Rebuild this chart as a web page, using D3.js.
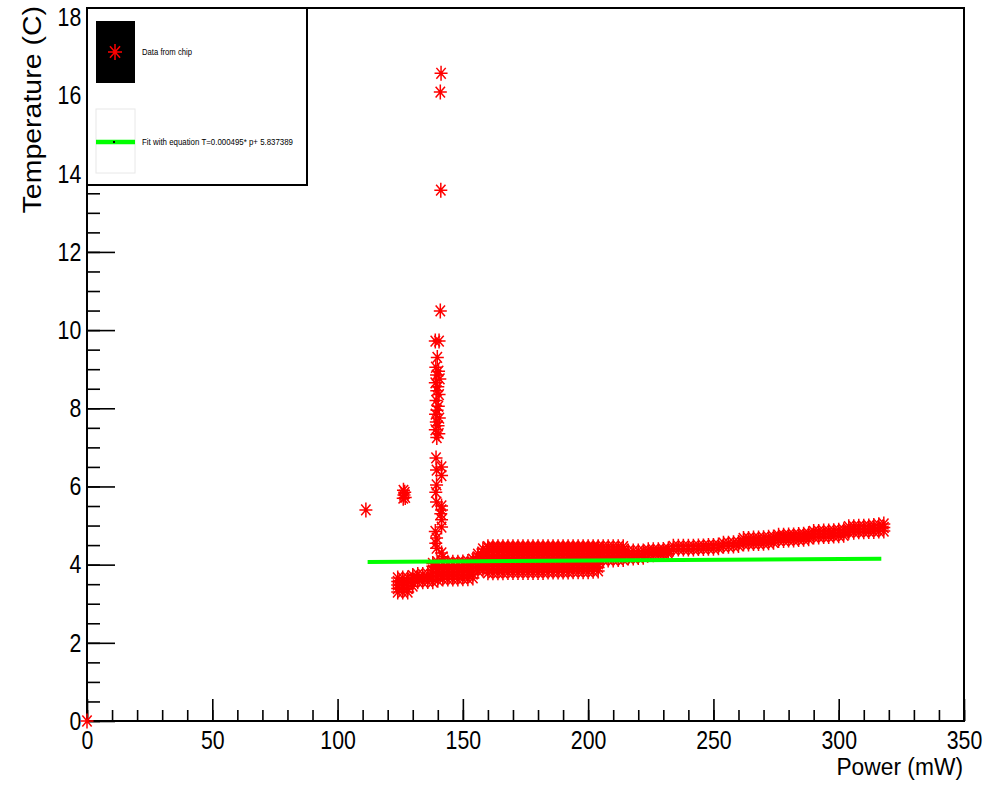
<!DOCTYPE html>
<html>
<head>
<meta charset="utf-8">
<script src="https://cdn.jsdelivr.net/npm/d3@7"></script>
<style>
  body { margin: 0; background: #fff; }
  svg { display: block; }
</style>
</head>
<body>
<svg></svg>
<script>
// isolated readings
var outlierPower = [0, 111.3, 126.3, 126.8, 126.5, 127.0, 126.2];
var outlierTemp  = [0, 5.4, 5.9, 5.85, 5.78, 5.72, 5.7];

// vertical column of readings near 140 mW
var columnPower = [141.3, 141.0, 141.2, 141.0, 139.0, 140.5, 139.8,
  139.2, 140.3, 139.5, 140.8, 139.0, 140.0, 139.6, 140.5, 139.3, 140.2, 139.7, 139.1, 140.6, 139.4, 140.1, 139.0, 140.4, 139.6,
  139.3, 141.5, 139.5, 141.5, 139.5, 139.2, 139.5, 141.5, 141.5, 141.2, 141.5, 141.5, 139.0, 139.5, 139.2, 139.5, 141.5, 142.0];
var columnTemp = [16.57, 16.09, 13.58, 10.49, 9.72, 9.72, 9.3,
  9.05, 8.95, 8.85, 8.75, 8.65, 8.55, 8.45, 8.35, 8.2, 8.05, 7.95, 7.85, 7.75, 7.65, 7.55, 7.45, 7.35, 7.25,
  6.73, 6.5, 6.42, 6.28, 6.04, 5.85, 5.6, 5.5, 5.4, 5.3, 5.15, 4.96, 4.85, 4.68, 4.55, 4.42, 4.3, 4.2];

// main band: power of each column and the temperatures read in it
var bandPower = [124, 126, 128, 130, 132, 134, 136, 138, 140,
  142, 144, 146, 148, 150, 152, 154, 156, 158,
  160, 162, 164, 166, 168, 170, 172, 174, 176, 178, 180, 182,
  184, 186, 188, 190, 192, 194, 196, 198, 200, 202, 204,
  206, 208, 210, 212, 214, 216, 218, 220, 222,
  224, 226, 228, 230, 232,
  234, 236, 238, 240, 242, 244, 246, 248, 250, 252,
  254, 256, 258, 260,
  262, 264, 266, 268, 270, 272, 274,
  276, 278, 280, 282, 284, 286, 288,
  290, 292, 294, 296, 298, 300, 302,
  304, 306, 308, 310, 312, 314, 316, 318];
var bandTemps = [
  [3.3, 3.39, 3.48, 3.57, 3.66], [3.3, 3.39, 3.48, 3.57, 3.66], [3.3, 3.39, 3.48, 3.57, 3.66],
  [3.45, 3.55, 3.65, 3.72], [3.56, 3.65, 3.75], [3.56, 3.65, 3.75], [3.57, 3.66, 3.76],
  [3.56, 3.66, 3.76, 3.86, 3.96, 4.03], [3.6, 3.7, 3.8, 3.9, 4.0, 4.06],
  [3.63, 3.72, 3.81, 3.9, 3.99, 4.06], [3.63, 3.72, 3.81, 3.9, 3.99, 4.06],
  [3.63, 3.72, 3.81, 3.9, 3.99, 4.06], [3.63, 3.72, 3.81, 3.9, 3.99, 4.06],
  [3.64, 3.73, 3.82, 3.91, 4.0, 4.07], [3.64, 3.73, 3.82, 3.91, 4.0, 4.08],
  [3.66, 3.76, 3.86, 3.96, 4.06, 4.14], [3.84, 3.93, 4.02, 4.11, 4.2, 4.27],
  [3.86, 3.95, 4.04, 4.13, 4.22, 4.31, 4.4],
  // 160 - 204
  [3.79, 3.88, 3.97, 4.06, 4.15, 4.24, 4.33, 4.42, 4.46],
  [3.79, 3.88, 3.97, 4.06, 4.15, 4.24, 4.33, 4.42, 4.46],
  [3.79, 3.88, 3.97, 4.06, 4.15, 4.24, 4.33, 4.42, 4.46],
  [3.79, 3.88, 3.97, 4.06, 4.15, 4.24, 4.33, 4.42, 4.46],
  [3.8, 3.89, 3.98, 4.07, 4.16, 4.25, 4.34, 4.42, 4.46],
  [3.8, 3.89, 3.98, 4.07, 4.16, 4.25, 4.34, 4.42, 4.46],
  [3.8, 3.89, 3.98, 4.07, 4.16, 4.25, 4.34, 4.42, 4.46],
  [3.8, 3.89, 3.98, 4.07, 4.16, 4.25, 4.34, 4.42, 4.46],
  [3.8, 3.89, 3.98, 4.07, 4.16, 4.25, 4.34, 4.42, 4.46],
  [3.8, 3.89, 3.98, 4.07, 4.16, 4.25, 4.34, 4.42, 4.46],
  [3.8, 3.89, 3.98, 4.07, 4.16, 4.25, 4.34, 4.42, 4.46],
  [3.8, 3.89, 3.98, 4.07, 4.16, 4.25, 4.34, 4.42, 4.46],
  [3.81, 3.9, 3.99, 4.08, 4.17, 4.26, 4.35, 4.42, 4.46],
  [3.81, 3.9, 3.99, 4.08, 4.17, 4.26, 4.35, 4.42, 4.46],
  [3.81, 3.9, 3.99, 4.08, 4.17, 4.26, 4.35, 4.42, 4.46],
  [3.81, 3.9, 3.99, 4.08, 4.17, 4.26, 4.35, 4.42, 4.46],
  [3.81, 3.9, 3.99, 4.08, 4.17, 4.26, 4.35, 4.42, 4.46],
  [3.82, 3.91, 4.0, 4.09, 4.18, 4.27, 4.36, 4.42, 4.46],
  [3.82, 3.91, 4.0, 4.09, 4.18, 4.27, 4.36, 4.42, 4.46],
  [3.82, 3.91, 4.0, 4.09, 4.18, 4.27, 4.36, 4.42, 4.46],
  [3.82, 3.91, 4.0, 4.09, 4.18, 4.27, 4.36, 4.42, 4.46],
  [3.83, 3.92, 4.01, 4.1, 4.19, 4.28, 4.37, 4.42, 4.46],
  [3.84, 3.93, 4.02, 4.11, 4.2, 4.29, 4.38, 4.43, 4.46],
  // 206 - 232
  [4.12, 4.21, 4.3, 4.39, 4.46], [4.12, 4.21, 4.3, 4.39, 4.46], [4.12, 4.21, 4.3, 4.39, 4.46],
  [4.13, 4.22, 4.31, 4.39, 4.46], [4.13, 4.22, 4.31, 4.39, 4.46],
  [4.17, 4.26, 4.35], [4.17, 4.26, 4.35], [4.18, 4.27, 4.35], [4.19, 4.27, 4.35],
  [4.25, 4.32, 4.38], [4.25, 4.32, 4.38], [4.26, 4.32, 4.38], [4.27, 4.33, 4.39], [4.28, 4.34, 4.4],
  // 234 - 260
  [4.4, 4.47], [4.4, 4.47], [4.4, 4.47], [4.4, 4.47], [4.4, 4.47],
  [4.41, 4.48], [4.41, 4.48], [4.42, 4.49], [4.42, 4.49], [4.43, 4.5],
  [4.47, 4.55], [4.47, 4.55], [4.48, 4.56], [4.49, 4.57],
  // 262 - 318
  [4.53, 4.6, 4.67], [4.53, 4.6, 4.67], [4.54, 4.61, 4.68], [4.54, 4.61, 4.68],
  [4.55, 4.62, 4.69], [4.56, 4.63, 4.7], [4.57, 4.64, 4.71],
  [4.62, 4.69, 4.75], [4.62, 4.69, 4.75], [4.63, 4.7, 4.76], [4.63, 4.7, 4.76],
  [4.64, 4.71, 4.77], [4.65, 4.72, 4.78], [4.66, 4.73, 4.79],
  [4.71, 4.78, 4.85], [4.71, 4.78, 4.85], [4.72, 4.79, 4.86], [4.72, 4.79, 4.86],
  [4.73, 4.8, 4.87], [4.74, 4.81, 4.88], [4.75, 4.82, 4.89],
  [4.83, 4.9, 4.97], [4.83, 4.9, 4.97], [4.84, 4.91, 4.98], [4.84, 4.91, 4.98],
  [4.85, 4.92, 4.99], [4.85, 4.93, 5.0], [4.86, 4.94, 5.02], [4.86, 4.95, 5.04]
];

// fitted straight line, as drawn
var fitPower = [112, 317];
var fitTemp = [4.07, 4.15];

var xTicks = [0, 50, 100, 150, 200, 250, 300, 350];
var yTicks = [0, 2, 4, 6, 8, 10, 12, 14, 16, 18];

var svgWidth = 987;
var svgHeight = 787;

var svg = d3.select("svg")
  .attr("width", svgWidth)
  .attr("height", svgHeight);

var x = d3.scaleLinear().domain([0, 350]).range([87, 964]);
var y = d3.scaleLinear().domain([0, 18.24]).range([721, 8]);

var fontFam = "'Liberation Sans', Arial, sans-serif";

// all points flattened
var points = [];
outlierPower.forEach(function(p, i) { points.push([p, outlierTemp[i]]); });
columnPower.forEach(function(p, i) { points.push([p, columnTemp[i]]); });
bandPower.forEach(function(p, i) {
  (bandTemps[i] || []).forEach(function(t) { points.push([p, t]); });
});

function starPath(cx, cy, sx, sy) {
  var dx = sx * 0.72, dy = sy * 0.72;
  return "M" + (cx - sx) + "," + cy + "L" + (cx + sx) + "," + cy +
    "M" + cx + "," + (cy - sy) + "L" + cx + "," + (cy + sy) +
    "M" + (cx - dx) + "," + (cy - dy) + "L" + (cx + dx) + "," + (cy + dy) +
    "M" + (cx - dx) + "," + (cy + dy) + "L" + (cx + dx) + "," + (cy - dy);
}

// ticks (inside the frame)
var xAxis = svg.append("g")
  .attr("transform", "translate(0,721)")
  .call(d3.axisBottom(x).tickValues(xTicks).tickSize(-22).tickPadding(10).tickFormat(d3.format("d")));
var xMinor = svg.append("g")
  .attr("transform", "translate(0,721)")
  .call(d3.axisBottom(x).tickValues(d3.range(0, 351, 10)).tickSize(-11).tickFormat(""));
var yAxis = svg.append("g")
  .attr("transform", "translate(87,0)")
  .call(d3.axisLeft(y).tickValues(yTicks).tickSize(-28).tickPadding(7).tickFormat(d3.format("d")));
var yMinor = svg.append("g")
  .attr("transform", "translate(87,0)")
  .call(d3.axisLeft(y).tickValues(d3.range(0, 18.1, 0.5)).tickSize(-13).tickFormat(""));

[xAxis, xMinor, yAxis, yMinor].forEach(function(g) {
  g.select(".domain").remove();
  g.selectAll(".tick line").attr("stroke", "#000").attr("stroke-width", 1.6);
  g.selectAll("text")
    .attr("fill", "#000")
    .attr("font-family", fontFam)
    .attr("font-size", "26px");
});
xAxis.selectAll("text").attr("transform", "scale(0.82,1)");
yAxis.selectAll("text").attr("transform", "scale(0.82,1)");

// frame
svg.append("rect")
  .attr("x", 87).attr("y", 8)
  .attr("width", 964 - 87).attr("height", 721 - 8)
  .attr("fill", "none").attr("stroke", "#000").attr("stroke-width", 2);

// data stars
svg.append("g")
  .selectAll("path")
  .data(points)
  .enter()
  .append("path")
  .attr("d", function(d) { return starPath(x(d[0]), y(d[1]), 6.5, 7.5); })
  .attr("stroke", "#ff0000")
  .attr("stroke-width", 1.5)
  .attr("fill", "none");

// fit line
svg.append("line")
  .attr("x1", x(fitPower[0])).attr("y1", y(fitTemp[0]))
  .attr("x2", x(fitPower[1])).attr("y2", y(fitTemp[1]))
  .attr("stroke", "#00ff00")
  .attr("stroke-width", 4);

// axis titles
svg.append("text")
  .text("Power (mW)")
  .attr("text-anchor", "end")
  .attr("transform", "translate(963,775) scale(0.95,1)")
  .attr("font-family", fontFam)
  .attr("font-size", "24px")
  .attr("fill", "#000");

svg.append("text")
  .text("Temperature (C)")
  .attr("text-anchor", "end")
  .attr("transform", "translate(41,6) rotate(-90) scale(1,0.9)")
  .attr("font-family", fontFam)
  .attr("font-size", "28.5px")
  .attr("fill", "#000");

// legend
var legend = svg.append("g");
legend.append("rect")
  .attr("x", 87).attr("y", 8).attr("width", 220).attr("height", 177)
  .attr("fill", "#fff").attr("stroke", "#000").attr("stroke-width", 2);
legend.append("rect")
  .attr("x", 96).attr("y", 21).attr("width", 39).attr("height", 62)
  .attr("fill", "#000");
legend.append("path")
  .attr("d", starPath(115, 52, 7, 8))
  .attr("stroke", "#ff0000").attr("stroke-width", 1.5).attr("fill", "none");
legend.append("text")
  .text("Data from chip")
  .attr("x", 142).attr("y", 55)
  .attr("textLength", 50).attr("lengthAdjust", "spacingAndGlyphs")
  .attr("font-family", fontFam).attr("font-size", "9px").attr("fill", "#000");
legend.append("rect")
  .attr("x", 96).attr("y", 109).attr("width", 39).attr("height", 64)
  .attr("fill", "#fff").attr("stroke", "#e8e8e8").attr("stroke-width", 1);
legend.append("line")
  .attr("x1", 96).attr("x2", 135).attr("y1", 142).attr("y2", 142)
  .attr("stroke", "#00ff00").attr("stroke-width", 4.5);
legend.append("rect")
  .attr("x", 113).attr("y", 141).attr("width", 2).attr("height", 2)
  .attr("fill", "#000");
legend.append("text")
  .text("Fit with equation T=0.000495* p+ 5.837389")
  .attr("x", 142).attr("y", 145)
  .attr("textLength", 151).attr("lengthAdjust", "spacingAndGlyphs")
  .attr("font-family", fontFam).attr("font-size", "9px").attr("fill", "#000");
</script>
</body>
</html>
